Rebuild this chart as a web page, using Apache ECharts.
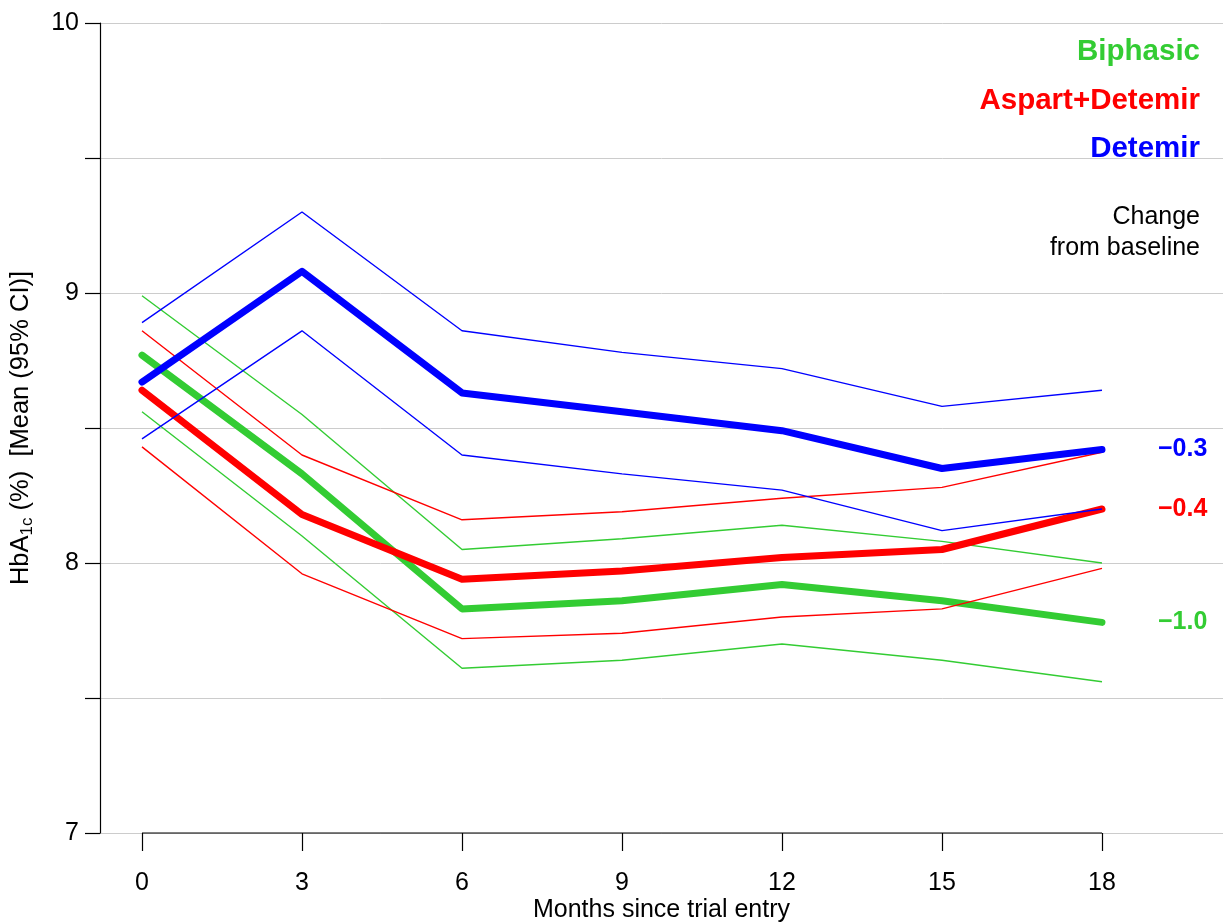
<!DOCTYPE html>
<html>
<head>
<meta charset="utf-8">
<script src="https://cdn.jsdelivr.net/npm/echarts@6/dist/echarts.min.js"></script>
<style>
html,body{margin:0;padding:0;background:#fff;}
#chart{width:1223px;height:922px;}
</style>
</head>
<body>
<div id="chart"></div>
<script>
var months = [0, 3, 6, 9, 12, 15, 18];
var yTicks = [7, 8, 9, 10];

var groups = ['Biphasic', 'Aspart+Detemir', 'Detemir'];
var groupColors = ['#33CC33', '#FF0000', '#0000FF'];
var changeLabels = ['\u22121.0', '\u22120.4', '\u22120.3'];
var noteLines = ['Change', 'from baseline'];

var biphasicMean  = [8.77, 8.33, 7.83, 7.86, 7.92, 7.86, 7.78];
var biphasicUpper = [8.99, 8.55, 8.05, 8.09, 8.14, 8.08, 8.00];
var biphasicLower = [8.56, 8.10, 7.61, 7.64, 7.70, 7.64, 7.56];

var aspartMean  = [8.64, 8.18, 7.94, 7.97, 8.02, 8.05, 8.20];
var aspartUpper = [8.86, 8.40, 8.16, 8.19, 8.24, 8.28, 8.41];
var aspartLower = [8.43, 7.96, 7.72, 7.74, 7.80, 7.83, 7.98];

var detemirMean  = [8.67, 9.08, 8.63, 8.56, 8.49, 8.35, 8.42];
var detemirUpper = [8.89, 9.30, 8.86, 8.78, 8.72, 8.58, 8.64];
var detemirLower = [8.46, 8.86, 8.40, 8.33, 8.27, 8.12, 8.20];

var FONT = '"Liberation Sans", Arial, Helvetica, sans-serif';
var yMin = 7, yMax = 10;

function pts(vals) { return vals.map(function (v, i) { return [months[i], v]; }); }

var groupData = [
  {mean: biphasicMean, upper: biphasicUpper, lower: biphasicLower},
  {mean: aspartMean, upper: aspartUpper, lower: aspartLower},
  {mean: detemirMean, upper: detemirUpper, lower: detemirLower}
];

var series = [{
  type: 'line', silent: true, clip: false, symbol: 'none',
  data: [[months[0], yMin], [months[months.length - 1], yMin]],
  lineStyle: {color: '#000', width: 1.2}, z: 5
}];

groupData.forEach(function (g, k) {
  var c = groupColors[k];
  ['lower', 'upper'].forEach(function (key) {
    series.push({
      type: 'line', silent: true, symbol: 'none', clip: false,
      data: pts(g[key]),
      lineStyle: {color: c, width: 1.4}
    });
  });
  series.push({
    type: 'line', silent: true, symbol: 'none', clip: false,
    data: pts(g.mean),
    lineStyle: {color: c, width: 7, cap: 'round', join: 'round'},
    endLabel: {
      show: true, distance: 56,
      formatter: function () { return changeLabels[k]; },
      color: c, fontWeight: 'bold', fontSize: 25, fontFamily: FONT
    }
  });
});

var legendTops = [52, 101, 149];
var graphic = groups.map(function (name, k) {
  return {
    type: 'text', right: 23, top: legendTops[k] - 15,
    style: {text: name, fill: groupColors[k], font: 'bold 29.5px ' + FONT}
  };
});
var noteTops = [218, 249];
noteLines.forEach(function (t, i) {
  graphic.push({
    type: 'text', right: 23, top: noteTops[i] - 13,
    style: {text: t, fill: '#000', font: '25px ' + FONT}
  });
});

var chart = echarts.init(document.getElementById('chart'), null, {renderer: 'canvas'});
chart.setOption({
  animation: false,
  backgroundColor: '#fff',
  grid: {left: 100, right: 0, top: 23, bottom: 89, containLabel: false, outerBoundsMode: 'none'},
  xAxis: {
    type: 'value', min: -0.7875, max: 20.269,
    axisLine: {show: false},
    splitLine: {show: false},
    axisTick: {show: true, length: 18, customValues: months, lineStyle: {color: '#000', width: 1.2}},
    axisLabel: {customValues: months, margin: 38, fontSize: 25, color: '#000', fontFamily: FONT},
    name: 'Months since trial entry', nameLocation: 'middle', nameGap: 65, nameMoveOverlap: false,
    nameTextStyle: {fontSize: 25, color: '#000', fontFamily: FONT}
  },
  yAxis: {
    type: 'value', min: yMin, max: yMax, interval: 0.5,
    axisLine: {show: true, onZero: false, lineStyle: {color: '#000', width: 1.2}},
    axisTick: {show: true, length: 15, lineStyle: {color: '#000', width: 1.2}},
    axisLabel: {
      margin: 21, fontSize: 25, color: '#000', fontFamily: FONT,
      formatter: function (v) { return yTicks.indexOf(v) >= 0 ? String(v) : ''; }
    },
    splitLine: {show: true, lineStyle: {color: '#CCCCCC', width: 1}},
    name: '{m|HbA}{s|1c}{m| (%)  [Mean (95% CI)]}',
    nameLocation: 'middle', nameGap: 64, nameRotate: 90, nameMoveOverlap: false,
    nameTextStyle: {
      color: '#000', fontFamily: FONT, fontSize: 25.5,
      rich: {
        m: {fontSize: 25.5, lineHeight: 30, fontFamily: FONT, color: '#000', verticalAlign: 'middle'},
        s: {fontSize: 17, lineHeight: 16, fontFamily: FONT, color: '#000', verticalAlign: 'bottom'}
      }
    }
  },
  graphic: graphic,
  series: series
});
</script>
</body>
</html>
